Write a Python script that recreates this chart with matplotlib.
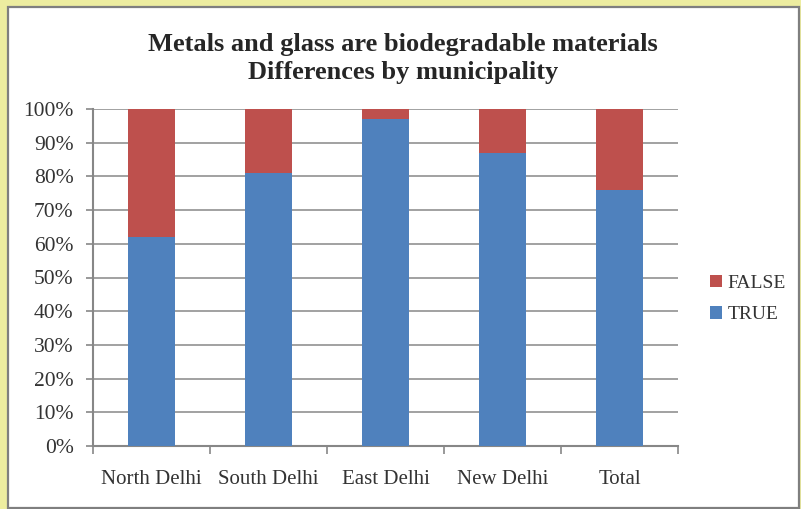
import matplotlib
matplotlib.use("Agg")
import matplotlib.pyplot as plt
from matplotlib.patches import Rectangle
import numpy as np

# Data
categories = ["North Delhi", "South Delhi", "East Delhi", "New Delhi", "Total"]
true_pct = [62, 81, 97, 87, 76]
false_pct = [38, 19, 3, 13, 24]
y_ticks = [0, 10, 20, 30, 40, 50, 60, 70, 80, 90, 100]
title_lines = ["Metals and glass are biodegradable materials", "Differences by municipality"]

W, H = 801, 509
fig = plt.figure(figsize=(W / 100, H / 100), dpi=100, facecolor="#EDEDA0")

# White chart area with gray frame
frame = Rectangle((8 / W, 1 / H), 791 / W, 501 / H, transform=fig.transFigure,
                  facecolor="white", edgecolor="#7F7F7F", linewidth=1.6, zorder=-10)
fig.patches.append(frame)

font = "Liberation Serif"
text_color = "#262626"
label_color = "#333333"

ax = fig.add_axes([93 / W, (H - 446) / H, (678 - 93) / W, (446 - 109) / H])
ax.set_facecolor("none")

x = np.arange(len(categories))
blue = "#4F81BD"
red = "#BE504D"
b1 = ax.bar(x, true_pct, width=0.4, color=blue, label="TRUE", zorder=3)
b2 = ax.bar(x, false_pct, bottom=true_pct, width=0.4, color=red, label="FALSE", zorder=3)

ax.set_xlim(-0.5, len(categories) - 0.5)
ax.set_ylim(0, 100)

# Horizontal gridlines
ax.set_yticks(y_ticks)
ax.set_yticklabels([f"{v}%" for v in y_ticks], fontfamily=font, fontsize=15.5, color=label_color)
ax.yaxis.grid(True, color="#888888", linewidth=1.1, zorder=0)
ax.set_axisbelow(True)

# Category boundaries as tick marks, labels centered under bars
ax.set_xticks(np.arange(len(categories) + 1) - 0.5)
ax.set_xticklabels([])
ax.set_xticks(x, minor=True)
ax.set_xticklabels(categories, minor=True, fontfamily=font, fontsize=15, color=label_color)
ax.tick_params(axis="x", which="minor", length=0, pad=17)
ax.tick_params(axis="x", which="major", length=6, width=1.2, color="#878787", direction="out")
ax.tick_params(axis="y", length=5, width=1.2, color="#878787", pad=9)

for s in ["top", "right"]:
    ax.spines[s].set_visible(False)
for s in ["left", "bottom"]:
    ax.spines[s].set_color("#878787")
    ax.spines[s].set_linewidth(1.5)

fig.text(403 / W, (H - 44) / H, title_lines[0], ha="center", va="center",
         fontfamily=font, fontweight="bold", fontsize=19, color=text_color)
fig.text(403 / W, (H - 72) / H, title_lines[1], ha="center", va="center",
         fontfamily=font, fontweight="bold", fontsize=19, color=text_color)

leg = fig.legend(handles=[b2, b1], labels=["FALSE", "TRUE"], loc="center left",
                 bbox_to_anchor=(710 / W, (H - 299) / H), frameon=False,
                 prop={"family": font, "size": 14}, handlelength=0.6, handleheight=0.6,
                 handletextpad=0.3, labelspacing=0.75, borderpad=0, borderaxespad=0)
for t in leg.get_texts():
    t.set_color(label_color)

fig.savefig("out.png", dpi=100, facecolor=fig.get_facecolor())
